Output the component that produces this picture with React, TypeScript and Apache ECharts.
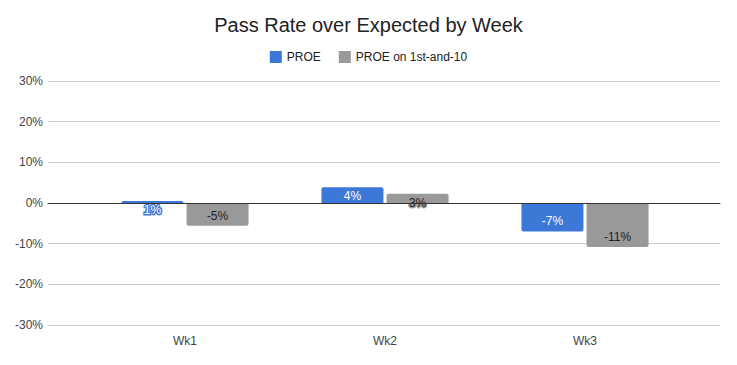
import React, { useEffect, useRef } from "react";
import * as echarts from "echarts";

const categories = ["Wk1", "Wk2", "Wk3"];
const proe = [0.5, 3.9, -7.0];
const proeFirst10 = [-5.6, 2.3, -10.8];
const proeLabels = ["1%", "4%", "-7%"];
const proeFirst10Labels = ["-5%", "3%", "-11%"];
const yTicks = { min: -30, max: 30, interval: 10 };

const BLUE = "#3c78d8";
const GRAY = "#999999";
const FONT = "'Liberation Sans', Arial, sans-serif";

function buildData(values: number[], labels: string[], textColor: string, borderColor: string) {
  return values.map((v, i) => ({
    value: v,
    itemStyle: { borderRadius: v >= 0 ? [2, 2, 0, 0] : [0, 0, 2, 2] },
    label: {
      show: true,
      position: v >= 0 ? "insideTop" : "insideBottom",
      distance: v >= 0 ? 3 : 4,
      formatter: () => labels[i],
      color: textColor,
      fontSize: 12,
      fontFamily: FONT,
      textBorderColor: borderColor,
      textBorderWidth: 3,
    },
  }));
}

export default function App() {
  const ref = useRef<HTMLDivElement>(null);
  useEffect(() => {
    document.body.style.margin = "0";
    const chart = echarts.init(ref.current!, null, { renderer: "svg" });
    chart.setOption({
      animation: false,
      backgroundColor: "#ffffff",
      textStyle: { fontFamily: FONT },
      title: {
        text: "Pass Rate over Expected by Week",
        left: "center",
        top: 10,
        textStyle: { fontSize: 20, fontWeight: "normal", color: "#222222", fontFamily: FONT },
      },
      legend: {
        top: 46,
        left: "center",
        itemWidth: 12,
        itemHeight: 12,
        itemGap: 18,
        icon: "rect",
        textStyle: { fontSize: 12, color: "#222222", fontFamily: FONT },
        data: ["PROE", "PROE on 1st-and-10"],
      },
      grid: [
        { left: 48, right: 17, top: 81, bottom: 40 },
        { left: 85, width: 600, top: 81, bottom: 40 },
      ],
      xAxis: [
        {
          gridIndex: 0,
          type: "value",
          min: 0,
          max: 1,
          axisLabel: { show: false },
          axisTick: { show: false },
          splitLine: { show: false },
          axisLine: { show: true, onZero: true, lineStyle: { color: "#333333", width: 1 } },
          z: 5,
        },
        {
          gridIndex: 1,
          type: "category",
          data: categories,
          axisLine: { show: false },
          axisTick: { show: false },
          axisLabel: { color: "#444444", fontSize: 12, margin: 10, fontFamily: FONT },
        },
      ],
      yAxis: [
        {
          gridIndex: 0,
          type: "value",
          ...yTicks,
          axisLine: { show: false },
          axisTick: { show: false },
          axisLabel: { color: "#444444", fontSize: 12, margin: 5, formatter: (v: number) => v + "%", fontFamily: FONT },
          splitLine: { lineStyle: { color: "#cccccc", width: 1 } },
        },
        {
          gridIndex: 1,
          type: "value",
          ...yTicks,
          show: false,
          splitLine: { show: false },
        },
      ],
      series: [
        {
          name: "PROE",
          type: "bar",
          xAxisIndex: 1,
          yAxisIndex: 1,
          barWidth: 62,
          barGap: "5%",
          itemStyle: { color: BLUE },
          data: buildData(proe, proeLabels, "#ffffff", BLUE),
        },
        {
          name: "PROE on 1st-and-10",
          type: "bar",
          xAxisIndex: 1,
          yAxisIndex: 1,
          barWidth: 62,
          barGap: "5%",
          itemStyle: { color: GRAY },
          data: buildData(proeFirst10, proeFirst10Labels, "#222222", GRAY),
        },
      ],
    });
    return () => chart.dispose();
  }, []);
  return <div ref={ref} style={{ width: 737, height: 365 }} />;
}
